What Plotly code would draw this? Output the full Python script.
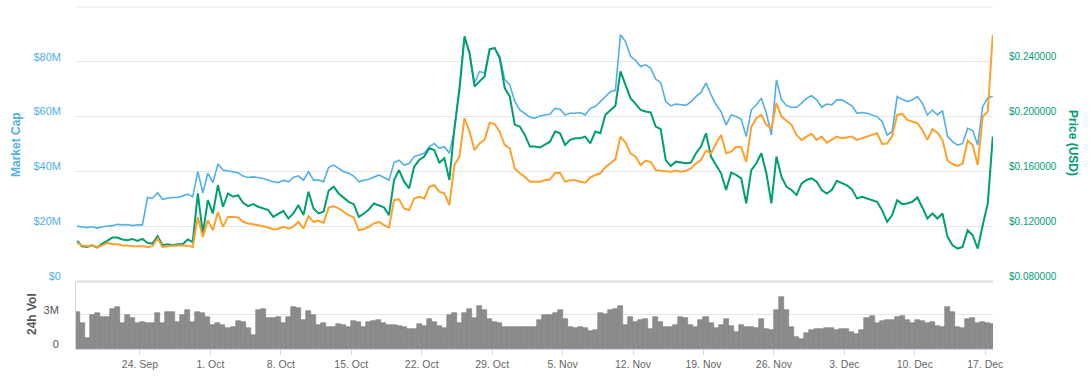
import pandas as pd
import plotly.graph_objects as go

# ---------------- data (12-hour samples, 17 Sep 2017 18:00 -> 17 Dec 2017 18:00) ----------------
start_time = "2017-09-17 18:00"
sample_count = 183

market_cap_musd = [
    20.0, 19.8, 19.5, 19.8, 19.3, 19.8, 20.0, 20.2, 20.7, 20.5,
    20.6, 20.2, 20.5, 20.5, 30.5, 30.2, 32.2, 29.8, 30.2, 30.5,
    30.5, 31.2, 31.7, 30.7, 40.0, 32.2, 39.3, 35.9, 42.7, 40.5,
    40.2, 39.9, 39.5, 38.3, 37.8, 38.0, 37.8, 37.4, 36.8, 36.2,
    35.9, 36.8, 36.2, 37.8, 38.4, 36.8, 39.9, 36.8, 36.8, 36.2,
    41.5, 42.3, 41.1, 39.9, 39.3, 38.3, 36.2, 36.8, 37.1, 38.0,
    38.7, 37.8, 36.8, 43.2, 44.1, 42.3, 42.9, 45.4, 46.0, 46.6,
    49.0, 50.2, 48.4, 49.0, 46.6, 55.1, 71.0, 88.7, 83.2, 72.2,
    76.5, 75.9, 84.4, 85.0, 82.0, 73.5, 71.6, 65.5, 62.4, 61.2,
    59.8, 59.4, 60.2, 60.6, 60.9, 63.0, 62.7, 60.6, 61.2, 61.2,
    61.5, 60.6, 63.0, 63.7, 65.5, 67.4, 69.1, 69.6, 89.9, 87.4,
    82.0, 80.5, 78.3, 78.9, 77.7, 73.7, 72.4, 65.5, 63.9, 64.6,
    64.3, 64.1, 65.4, 67.3, 68.8, 72.2, 68.0, 64.3, 61.8, 56.9,
    60.6, 60.0, 59.0, 52.7, 62.4, 64.3, 66.7, 61.2, 53.3, 73.4,
    66.2, 64.0, 63.4, 63.4, 64.9, 66.7, 67.6, 66.1, 63.4, 64.6,
    64.3, 66.1, 66.1, 65.1, 63.9, 61.2, 61.5, 61.2, 60.6, 60.0,
    58.2, 53.3, 54.5, 67.3, 66.3, 65.5, 66.1, 67.3, 64.9, 60.6,
    62.4, 60.6, 62.2, 52.8, 50.9, 49.6, 50.2, 55.7, 54.9, 49.6,
    63.7, 66.8, 67.4,
]

price_usd = [
    0.1093, 0.1054, 0.1049, 0.1061, 0.1044, 0.1073, 0.1093, 0.1117, 0.1117, 0.1103,
    0.1098, 0.1107, 0.1093, 0.1107, 0.1078, 0.1073, 0.1127, 0.1061, 0.1068, 0.1061,
    0.1068, 0.1068, 0.1103, 0.1085, 0.1439, 0.1146, 0.1390, 0.1293, 0.1500, 0.1342,
    0.1439, 0.1415, 0.1427, 0.1371, 0.1347, 0.1361, 0.1342, 0.1329, 0.1317, 0.1268,
    0.1293, 0.1312, 0.1256, 0.1293, 0.1354, 0.1281, 0.1451, 0.1329, 0.1293, 0.1305,
    0.1459, 0.1488, 0.1439, 0.1410, 0.1378, 0.1361, 0.1268, 0.1293, 0.1322, 0.1366,
    0.1354, 0.1337, 0.1281, 0.1537, 0.1610, 0.1525, 0.1476, 0.1634, 0.1683, 0.1708,
    0.1769, 0.1756, 0.1664, 0.1695, 0.1537, 0.1915, 0.2196, 0.2586, 0.2464, 0.2220,
    0.2257, 0.2293, 0.2493, 0.2500, 0.2427, 0.2208, 0.2147, 0.1940, 0.1927, 0.1866,
    0.1781, 0.1781, 0.1774, 0.1793, 0.1817, 0.1891, 0.1878, 0.1793, 0.1830, 0.1842,
    0.1842, 0.1854, 0.1805, 0.1891, 0.1878, 0.2013, 0.2049, 0.2079, 0.2330, 0.2232,
    0.2135, 0.2093, 0.2049, 0.2037, 0.2030, 0.1927, 0.1908, 0.1683, 0.1639, 0.1671,
    0.1664, 0.1659, 0.1664, 0.1732, 0.1781, 0.1878, 0.1708, 0.1647, 0.1586, 0.1464,
    0.1591, 0.1574, 0.1549, 0.1366, 0.1610, 0.1659, 0.1732, 0.1586, 0.1366, 0.1708,
    0.1561, 0.1488, 0.1464, 0.1427, 0.1512, 0.1537, 0.1549, 0.1525, 0.1464, 0.1439,
    0.1464, 0.1532, 0.1517, 0.1498, 0.1469, 0.1403, 0.1415, 0.1403, 0.1390, 0.1378,
    0.1317, 0.1232, 0.1281, 0.1390, 0.1361, 0.1366, 0.1378, 0.1410, 0.1337, 0.1256,
    0.1293, 0.1256, 0.1293, 0.1122, 0.1061, 0.1037, 0.1049, 0.1171, 0.1134, 0.1037,
    0.1207, 0.1366, 0.1854,
]

# third series (orange) drawn on its own hidden axis (relative scale 0-100)
price_btc_index = [
    13.9, 13.0, 12.7, 13.0, 12.4, 13.0, 13.9, 13.4, 13.4, 13.0,
    13.0, 12.7, 12.7, 12.7, 12.4, 12.7, 15.5, 12.4, 12.7, 12.9,
    13.0, 13.0, 12.9, 12.4, 23.4, 16.1, 22.2, 18.5, 25.2, 19.8,
    23.4, 23.4, 23.2, 21.6, 21.0, 20.7, 20.4, 20.0, 19.5, 18.8,
    19.1, 19.8, 19.1, 19.8, 21.6, 19.1, 23.7, 21.6, 22.0, 21.2,
    26.8, 27.3, 26.5, 25.2, 24.0, 23.2, 18.5, 19.0, 19.8, 21.0,
    21.6, 20.4, 19.5, 29.5, 29.8, 26.5, 25.9, 30.1, 30.7, 30.1,
    34.4, 35.0, 32.6, 32.0, 27.7, 42.3, 45.4, 59.4, 54.5, 47.8,
    50.2, 51.5, 57.8, 57.3, 54.5, 49.6, 48.4, 41.1, 39.3, 38.0,
    36.2, 36.2, 36.2, 36.8, 37.1, 39.3, 39.5, 36.2, 36.8, 36.8,
    36.2, 35.9, 37.8, 38.7, 39.3, 41.5, 42.9, 44.4, 52.7, 50.5,
    46.6, 45.4, 42.3, 43.9, 43.5, 40.5, 40.2, 40.1, 39.9, 40.2,
    39.9, 40.2, 41.1, 42.9, 44.1, 47.6, 46.6, 50.2, 53.3, 46.6,
    47.2, 49.0, 48.8, 43.5, 56.3, 59.4, 60.6, 57.0, 55.7, 64.9,
    60.0, 58.5, 57.0, 53.3, 51.5, 52.7, 53.7, 51.5, 52.7, 50.5,
    51.7, 52.7, 52.1, 52.4, 52.7, 51.5, 52.1, 52.7, 53.3, 53.9,
    50.0, 50.2, 52.9, 60.6, 61.0, 58.8, 58.2, 57.6, 55.1, 51.5,
    55.4, 54.1, 51.5, 43.9, 42.7, 42.0, 42.9, 51.2, 49.6, 42.3,
    60.0, 61.8, 89.9,
]

volume_musd = [
    3.29, 2.26, 0.94, 3.00, 3.15, 2.85, 2.85, 3.50, 3.73, 2.26,
    3.00, 2.70, 2.26, 2.41, 2.26, 2.26, 3.15, 2.26, 3.29, 3.29,
    2.41, 3.00, 3.44, 2.41, 3.29, 3.15, 2.85, 2.12, 2.26, 2.12,
    1.82, 1.97, 2.50, 2.41, 1.82, 1.23, 3.44, 3.50, 2.70, 2.70,
    2.85, 2.26, 2.85, 3.73, 3.59, 2.56, 3.38, 3.00, 2.12, 2.26,
    1.91, 1.97, 2.21, 2.12, 1.97, 2.50, 2.41, 1.97, 2.41, 2.50,
    2.56, 2.26, 2.12, 2.12, 2.03, 1.97, 1.73, 1.73, 2.21, 2.03,
    2.62, 2.41, 2.03, 1.82, 3.00, 3.15, 2.26, 3.20, 3.50, 2.70,
    3.79, 3.44, 2.62, 2.41, 2.26, 1.97, 1.97, 1.91, 1.97, 1.91,
    1.97, 1.97,
    2.56, 3.00, 3.00, 3.15, 3.44, 2.62, 1.97, 1.82, 1.97, 1.82,
    1.62, 1.68, 3.20, 3.09, 3.44, 3.50, 3.79, 2.12, 2.79, 2.41,
    2.56, 2.62, 1.73, 2.85, 2.41, 1.91, 1.97, 2.12, 2.85, 2.70,
    2.12, 1.97, 2.56, 2.79, 2.26, 1.82, 2.12, 2.62, 2.03, 1.53,
    2.12, 1.97, 1.97, 1.82, 2.62, 1.73, 1.68, 3.44, 4.56, 3.44,
    1.97, 1.09, 0.85, 1.38, 1.68, 1.73, 1.73, 1.82, 1.82, 1.68,
    1.73, 1.73, 1.53, 1.32, 1.68, 2.70, 2.91, 2.26, 2.50, 2.56,
    2.56, 2.85, 2.91, 2.56, 2.32, 2.56, 2.50, 2.26, 2.41, 2.03,
    1.97, 3.73, 3.29, 1.97, 1.82, 2.62, 2.70, 2.32, 2.38, 2.32,
    2.21,
]

week_ticks = ["2017-09-24", "2017-10-01", "2017-10-08", "2017-10-15", "2017-10-22",
              "2017-10-29", "2017-11-05", "2017-11-12", "2017-11-19", "2017-11-26",
              "2017-12-03", "2017-12-10", "2017-12-17"]
week_labels = ["24. Sep", "1. Oct", "8. Oct", "15. Oct", "22. Oct", "29. Oct", "5. Nov",
               "12. Nov", "19. Nov", "26. Nov", "3. Dec", "10. Dec", "17. Dec"]

cap_ticks = [0, 20, 40, 60, 80, 100]
cap_labels = ["$0", "$20M", "$40M", "$60M", "$80M", ""]
price_ticks = [0.08, 0.12, 0.16, 0.20, 0.24]
price_labels = ["$0.080000", "$0.120000", "$0.160000", "$0.200000", "$0.240000"]
vol_ticks = [0, 3]
vol_labels = ["0", "3M"]

# ---------------- figure ----------------
dates = pd.date_range(start_time, periods=sample_count, freq="12h")

BLUE = "#4fb0e6"
GREEN = "#009e73"
ORANGE = "#fba12e"
FONT = "Liberation Sans, Arial, sans-serif"

fig = go.Figure()
fig.add_trace(go.Bar(x=dates, y=volume_musd, yaxis="y2", name="24h Vol",
                     marker=dict(color="#8c8c8c", line=dict(color="#7d7d7d", width=0.6))))
fig.add_trace(go.Scatter(x=dates, y=market_cap_musd, yaxis="y", mode="lines", name="Market Cap",
                         line=dict(color=BLUE, width=1.6)))
fig.add_trace(go.Scatter(x=dates, y=price_usd, yaxis="y3", mode="lines", name="Price (USD)",
                         line=dict(color=GREEN, width=2)))
fig.add_trace(go.Scatter(x=dates, y=price_btc_index, yaxis="y4", mode="lines", name="Price (BTC)",
                         line=dict(color=ORANGE, width=2)))

main_bottom = (349 - 281) / 342
vol_top = (349 - 282) / 342

fig.update_layout(
    width=1091, height=383, autosize=False,
    margin=dict(l=76, r=98, t=7, b=34),
    paper_bgcolor="white", plot_bgcolor="white",
    showlegend=False, bargap=0,
    font=dict(family=FONT, size=11, color="#666666"),
    xaxis=dict(domain=[0, 1], anchor="y2", type="date",
               range=["2017-09-17 15:30", "2017-12-17 18:30"],
               tickvals=week_ticks, ticktext=week_labels,
               showgrid=False, zeroline=False,
               showline=True, linecolor="#ccd6eb", linewidth=1,
               ticks="outside", ticklen=5, tickcolor="#ccd6eb",
               tickfont=dict(size=10.5, color="#666666")),
    yaxis=dict(domain=[main_bottom, 1], anchor="x", range=[0, 100],
               tickvals=cap_ticks, ticktext=cap_labels,
               showgrid=True, gridcolor="#e6e6e6", gridwidth=1, zeroline=False,
               tickfont=dict(size=11, color=BLUE), ticklabelstandoff=14, ticklabelshift=-5),
    yaxis3=dict(overlaying="y", side="right", anchor="x", range=[0.08, 0.28],
                tickvals=price_ticks, ticktext=price_labels,
                showgrid=False, zeroline=False,
                tickfont=dict(size=10, color=GREEN), ticklabelstandoff=15, ticklabelshift=-5),
    yaxis4=dict(overlaying="y", range=[0, 100], visible=False),
    yaxis2=dict(domain=[0, vol_top], anchor="x", range=[0, 5.9],
                tickvals=vol_ticks, ticktext=vol_labels,
                showgrid=True, gridcolor="#e6e6e6", zeroline=False,
                showline=True, linecolor="#ccd6eb", linewidth=1,
                tickfont=dict(size=11, color="#555555"), ticklabelstandoff=14, ticklabelshift=-5),
    shapes=[
        dict(type="line", xref="paper", yref="paper", x0=0, x1=1,
             y0=(main_bottom + vol_top) / 2, y1=(main_bottom + vol_top) / 2,
             line=dict(color="#e3e3e3", width=2.5), layer="below"),
        dict(type="line", xref="paper", yref="paper", x0=0, x1=1, y0=1, y1=1,
             line=dict(color="#e6e6e6", width=1), layer="below"),
    ],
    annotations=[
        dict(text="<b>Market Cap</b>", xref="paper", yref="paper",
             x=(16 - 76) / 917, y=(349 - 144) / 342, xanchor="center", yanchor="middle",
             textangle=-90, showarrow=False,
             font=dict(size=12, color=BLUE, family=FONT)),
        dict(text="<b>Price (USD)</b>", xref="paper", yref="paper",
             x=(1073 - 76) / 917, y=(349 - 143) / 342, xanchor="center", yanchor="middle",
             textangle=90, showarrow=False,
             font=dict(size=12, color=GREEN, family=FONT)),
        dict(text="<b>24h Vol</b>", xref="paper", yref="paper",
             x=(32 - 76) / 917, y=(349 - 314) / 342, xanchor="center", yanchor="middle",
             textangle=-90, showarrow=False,
             font=dict(size=12, color="#555555", family=FONT)),
    ],
)

fig.write_html("out.html",
               config={"displayModeBar": False},
               post_script="document.body.style.margin='0';document.body.style.padding='0';")
